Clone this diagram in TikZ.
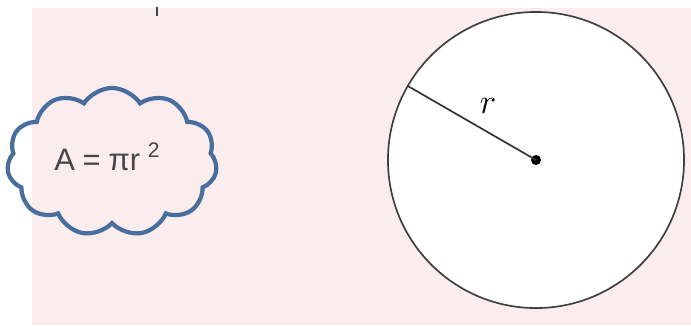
\documentclass[tikz,border=0pt]{standalone}
\usepackage{fontspec}
\setsansfont{Liberation Sans}
\definecolor{pinkbg}{RGB}{251,236,238}
\definecolor{cloudblue}{RGB}{72,110,158}
\definecolor{textgray}{RGB}{70,70,75}
\definecolor{tickgray}{RGB}{60,68,85}
\usepackage{tikz}
\usetikzlibrary{positioning, shapes.symbols}

\begin{document}
\begin{tikzpicture}[
  x=0.025cm, y=-0.025cm,
  thought/.style={cloud, draw=cloudblue, line width=3pt, cloud puffs=11,
    cloud puff arc=115, aspect=1.45, minimum width=5.25cm, minimum height=3.7cm,
    inner sep=0pt, outer sep=0pt},
  disk/.style={circle, draw=black!75, line width=1.2pt, fill=white,
    minimum size=7.4cm, inner sep=0pt, outer sep=0pt},
  centre/.style={circle, fill=black, minimum size=0.25cm, inner sep=0pt},
]
\useasboundingbox (0,0) rectangle (691,325);
% background panel
\fill[pinkbg] (32,8) rectangle (691,325);
\draw[tickgray, line width=1.8pt] (157,7) -- (157,16);

% formula cloud
\node[thought] (bubble) at (112,162) {};
\node[font=\sffamily\fontsize{22}{26}\selectfont, text=textgray] (area) at (107,157)
  {A\hspace{0.25em}=\hspace{0.25em}πr\hspace{0.25em}\raisebox{0.8ex}{\fontsize{15}{18}\selectfont 2}};

% circle with radius
\node[disk] (round) at (536,160) {};
\node[centre] (mid) at (536,160) {};
\draw[black!80, line width=1.2pt] (mid.center) -- (round.150);
\node[font=\fontsize{26}{30}\selectfont] (rlab) at (488,106) {$r$};
\end{tikzpicture}
\end{document}
